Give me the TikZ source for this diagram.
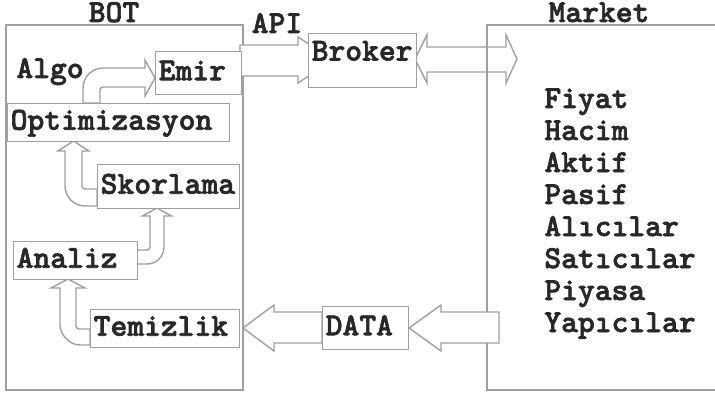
\documentclass[tikz,border=0pt]{standalone}
\usepackage{fontspec}
\newfontfamily\kalinyazi{lmmonolt10-bold.otf}[FakeBold=2]
\usetikzlibrary{positioning}
\definecolor{cizgi}{RGB}{160,160,160}
\definecolor{yazi}{RGB}{40,40,40}

\begin{document}
\begin{tikzpicture}[x=0.5pt,y=-0.5pt,
    every node/.style={font=\fontsize{16}{18}\kalinyazi,text=yazi,inner sep=0pt},
    kutu/.style n args={2}{draw=cizgi,fill=white,line width=0.7pt,anchor=north west,
      inner sep=1.5pt,minimum width=#1*0.5pt,minimum height=#2*0.5pt,
      text width=#1*0.5pt-3pt,align=left,text height=10pt,text depth=3pt},
    ok/.style={draw=cizgi,fill=white,line width=0.7pt,line join=miter},
    cerceve/.style={draw=cizgi,line width=0.7pt}]
  \useasboundingbox (0,0) rectangle (715,395);

  \draw[cerceve] (6,25) rectangle (243,390);
  \draw[cerceve] (715,25) -- (487,25) -- (487,390) -- (715,390);

  \node[anchor=base] (bot) at (114,22) {BOT};
  \node[anchor=base] (market) at (599,22) {Market};
  \node[anchor=base] (api) at (277,33) {API};
  \node[anchor=base west] (algo) at (16,78) {Algo};

  \foreach \w [count=\i] in {Fiyat,Hacim,Aktif,Pasif,Alıcılar,Satıcılar,Piyasa,Yapıcılar}
    \node[anchor=base west] (m\i) at (544,{108+32*(\i-1)}) {\w};

  % okun ici bos, market cizgisi gorunur
  \draw[cerceve,line join=miter] (415,59) -- (427,35) -- (427,47) -- (506,47) -- (506,35)
    -- (517,59) -- (506,83) -- (506,72) -- (427,72) -- (427,83) -- cycle;

  \path[ok] (240,45) -- (298,45) -- (298,37) -- (333,60) -- (298,83) -- (298,76) -- (240,76) -- cycle;
  \path[ok] (499,312) -- (441,312) -- (441,305) -- (409,328) -- (441,351) -- (441,343) -- (499,343) -- cycle;
  \path[ok] (322,312) -- (274,312) -- (274,305) -- (243,328) -- (274,351) -- (274,343) -- (322,343) -- cycle;

  \path[ok] (83,103) -- (83,88) .. controls (83,76.95) and (91.95,68) .. (103,68) -- (145,68)
    -- (145,60) -- (155,78) -- (145,96) -- (145,87) -- (103,87)
    .. controls (101.34,87) and (100,88.34) .. (100,90) -- (100,103) -- cycle;
  \path[ok] (97,206) -- (85,206) .. controls (73.95,206) and (65,197.05) .. (65,186) -- (65,151)
    -- (58,151) -- (73.5,141) -- (89,151) -- (82,151) -- (82,186)
    .. controls (82,187.66) and (83.34,189) .. (85,189) -- (97,189) -- cycle;
  \path[ok] (137,264) -- (147,264) .. controls (156.39,264) and (164,256.39) .. (164,247) -- (164,216)
    -- (171.5,216) -- (157,208) -- (142.5,216) -- (150,216) -- (150,247)
    .. controls (150,248.66) and (148.66,250) .. (147,250) -- (137,250) -- cycle;
  \path[ok] (90,345) -- (80,345) .. controls (68.95,345) and (60,333.95) .. (60,325) -- (60,288)
    -- (51,288) -- (68,279) -- (85,288) -- (76,288) -- (76,326)
    .. controls (76,327.66) and (77.66,329) .. (79,329) -- (90,329) -- cycle;

  \node[kutu={86}{43}] (emir) at (155,51) {Emir};
  \node[kutu={222}{38}] (opt) at (7,103) {Optimizasyon};
  \node[kutu={142}{44}] (skor) at (97,164) {Skorlama};
  \node[kutu={124}{38}] (analiz) at (13,241) {Analiz};
  \node[kutu={149}{38}] (temiz) at (90,309) {Temizlik};
  \node[kutu={108}{54},text depth=10.2pt] (broker) at (308,33) {Broker};
  \node[kutu={86}{43}] (data) at (322,306) {DATA};
\end{tikzpicture}
\end{document}
